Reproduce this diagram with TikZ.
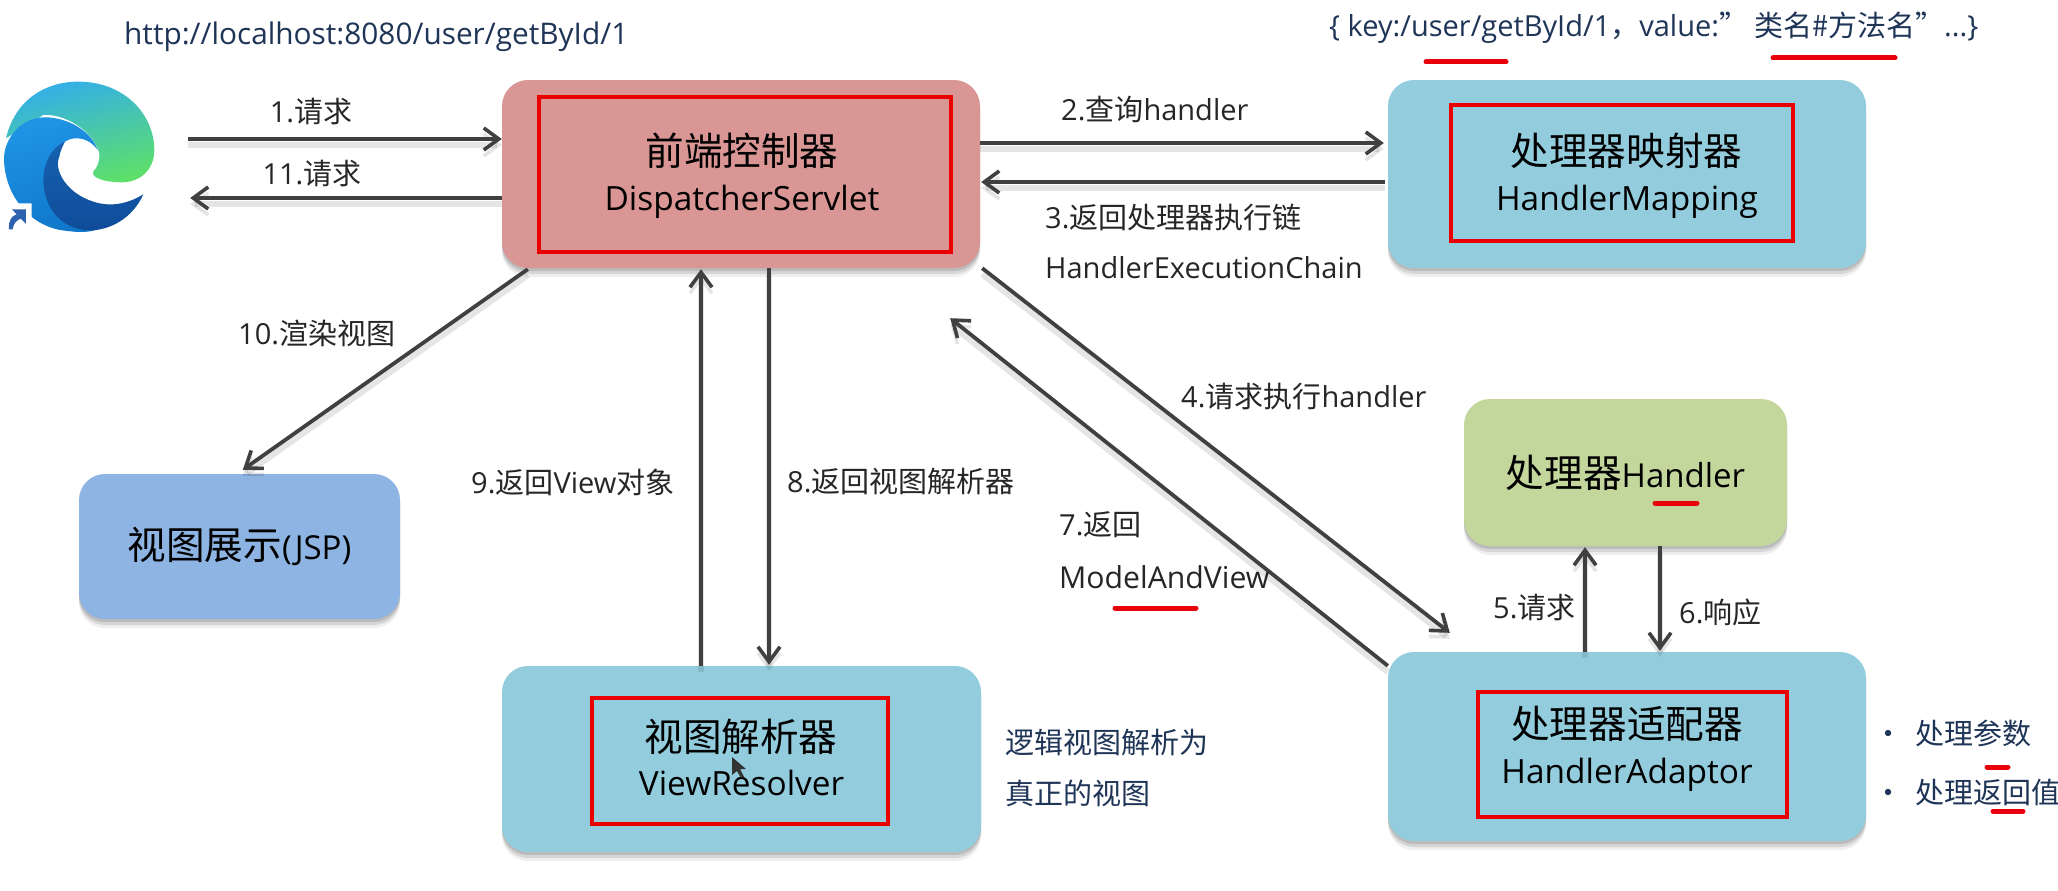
\documentclass[tikz,border=0pt]{standalone}
\usepackage{fontspec}
\usetikzlibrary{arrows.meta,shadows,calc}
\setmainfont{Open Sans}
\newfontfamily\cnfont{Noto Sans CJK SC}
\newcommand{\cn}[1]{{\cnfont #1}}
\newcommand{\fsz}[1]{\fontsize{#1}{#1}\selectfont}
\definecolor{arrowgrey}{HTML}{404040}
\definecolor{navy}{HTML}{1F3557}
\definecolor{redline}{HTML}{E8000B}
\definecolor{boxblue}{HTML}{93CDDD}
\definecolor{boxred}{HTML}{D99694}
\definecolor{boxgreen}{HTML}{C3D69B}
\definecolor{boxview}{HTML}{8EB4E3}
\definecolor{edgeA}{HTML}{33AEEA}
\definecolor{edgeB}{HTML}{2CC3C6}
\definecolor{edgeC}{HTML}{5DDF6B}
\definecolor{edgeD}{HTML}{2094E4}
\definecolor{edgeE}{HTML}{0F78CB}
\definecolor{edgeF}{HTML}{1662B0}
\definecolor{edgeG}{HTML}{0F4C9A}
\definecolor{edgeH}{HTML}{2F62AE}
\tikzset{
  softbox/.style={rounded corners=26pt,draw=none,inner sep=0pt,align=center,
    drop shadow={shadow xshift=0pt,shadow yshift=-3pt,opacity=.30},
    drop shadow={shadow xshift=0pt,shadow yshift=-6pt,opacity=.22},
    drop shadow={shadow xshift=0pt,shadow yshift=-9pt,opacity=.12}},
  redbox/.style={draw=red!92!black,line width=3.5pt,fill=none,inner sep=0pt},
  title/.style={anchor=base,inner sep=0pt,text=black,font=\fsz{38.6}\cnfont},
  sub/.style={anchor=base,inner sep=0pt,text=black,font=\fsz{33.4}},
  conn/.style={draw=arrowgrey,line width=3.8pt,-{Straight Barb[length=15pt,width=22pt,line width=3.6pt]},
    preaction={draw=black,draw opacity=.10,line width=6pt,transform canvas={yshift=-6pt}}},
  lab/.style={anchor=west,inner sep=0pt,text=black!85,font=\fsz{29}},
  note/.style={anchor=west,inner sep=0pt,text=navy,font=\fsz{29}},
  redmark/.style={draw=redline,line width=5pt,line cap=round},
}
\begin{document}
\begin{tikzpicture}[x=1pt,y=-1pt]
\useasboundingbox (0,0) rectangle (2058,891);
\fill[white] (0,0) rectangle (2058,891);

% --- browser logo
\node[minimum width=150pt,minimum height=150pt,inner sep=0pt] (browser) at (79,157) {};
\begin{scope}[x=0.3333pt,y=-0.3333pt,shift={(0pt,-60pt)}]
 \path[left color=edgeA,middle color=edgeB,right color=edgeC,shading angle=15]
   (18,235) .. controls (45,120) and (135,65) .. (235,65)
   .. controls (375,65) and (463,165) .. (463,270)
   .. controls (463,330) and (420,367) .. (365,367)
   .. controls (320,367) and (272,355) .. (280,335)
   .. controls (290,325) and (300,305) .. (298,280)
   .. controls (280,210) and (190,160) .. (130,165) -- cycle;
 \path[left color=edgeD,right color=edgeE,shading angle=20]
   (12,300) .. controls (10,240) and (60,172) .. (135,172)
   .. controls (205,172) and (275,215) .. (293,270)
   .. controls (270,235) and (225,225) .. (195,245)
   .. controls (140,280) and (150,400) .. (230,480)
   .. controls (250,500) and (270,508) .. (285,511)
   .. controls (250,520) and (215,515) .. (180,510)
   .. controls (80,490) and (15,400) .. (12,300) -- cycle;
 \path[left color=edgeF,right color=edgeG,shading angle=0]
   (195,245) .. controls (140,270) and (120,340) .. (135,400)
   .. controls (150,470) and (210,515) .. (280,511)
   .. controls (350,505) and (405,460) .. (430,403)
   .. controls (395,425) and (340,445) .. (280,425)
   .. controls (200,400) and (160,330) .. (178,290)
   .. controls (182,268) and (190,255) .. (195,245) -- cycle;
 \fill[white] (35,430) -- (95,430) -- (95,470) -- (60,510) -- (20,510) -- cycle;
 \fill[edgeH]
   (27,508) .. controls (25,480) and (35,468) .. (50,463) -- (36,448) -- (78,448) -- (78,492) -- (62,476)
   .. controls (48,482) and (40,492) .. (38,508) -- cycle;
\end{scope}

% --- boxes
\node[softbox,fill=boxred,minimum width=478pt,minimum height=188pt] (disp) at (741,174) {};
\node[redbox,minimum width=412pt,minimum height=155pt] (dispin) at (745,174.5) {};
\node[title] (t1) at (742,165) {前端控制器};
\node[sub] (s1) at (742,210) {DispatcherServlet};
\node[softbox,fill=boxblue,minimum width=478pt,minimum height=188pt] (map) at (1627,174) {};
\node[redbox,minimum width=342pt,minimum height=136pt] (mapin) at (1622,173) {};
\node[title] (t2) at (1626.5,165) {处理器映射器};
\node[sub] (s2) at (1627,210) {HandlerMapping};
\node[softbox,fill=boxgreen,minimum width=323pt,minimum height=147pt,font=\fsz{38.6}] (hand) at (1625.5,472.5)
  {\cn{处理器}\fsz{33}Handler};
\node[softbox,fill=boxblue,minimum width=478pt,minimum height=189pt] (adapt) at (1627,746.5) {};
\node[redbox,minimum width=309pt,minimum height=125pt] (adaptin) at (1632.5,754.5) {};
\node[title] (t3) at (1627,738) {处理器适配器};
\node[sub] (s3) at (1627,783) {HandlerAdaptor};
\node[softbox,fill=boxblue,minimum width=479pt,minimum height=186pt] (vr) at (741.5,759) {};
\node[redbox,minimum width=296pt,minimum height=126pt] (vrin) at (740,761) {};
\node[title] (t4) at (741,751) {视图解析器};
\node[sub] (s4) at (741.6,795) {ViewResolver};
\node[softbox,fill=boxview,minimum width=321pt,minimum height=145pt,font=\fsz{38.6}] (view) at (239.5,546.5)
  {\cn{视图展示}\fsz{33}(JSP)};

% --- connectors
\draw[conn] ([shift={(34pt,18pt)}]browser.east) -- ([yshift=35pt]disp.west);
\draw[conn] ([yshift=-24pt]disp.west) -- ([shift={(36pt,-41pt)}]browser.east);
\draw[conn,shorten >=4pt] ([yshift=31pt]disp.east) -- ([yshift=31pt]map.west);
\draw[conn,shorten >=1pt,shorten <=3pt] ([yshift=-8pt]map.west) -- ([yshift=-8pt]disp.east);
\draw[conn] ([shift={(2pt,0pt)}]disp.south east) -- ([shift={(62pt,19pt)}]adapt.north west);
\draw[conn] ([yshift=-14pt]adapt.north west) -- ([shift={(-30pt,-50pt)}]disp.south east);
\draw[conn,shorten >=1pt] ([xshift=-42pt]adapt.north) -- ([xshift=-40.5pt]hand.south);
\draw[conn,shorten >=1pt] ([xshift=34.5pt]hand.south) -- ([xshift=33pt]adapt.north);
\draw[conn,shorten >=1pt] ([xshift=-40.5pt]vr.north) -- ([xshift=-40pt]disp.south);
\draw[conn,shorten >=1pt] ([xshift=28pt]disp.south) -- ([xshift=27.5pt]vr.north);
\draw[conn] ([shift={(26pt,-1pt)}]disp.south west) -- ([shift={(164pt,4pt)}]view.north west);

% --- labels
\node[lab,anchor=center] (l1) at (311,112) {1.\cn{请求}};
\node[lab,anchor=center] (l11) at (312,174) {11.\cn{请求}};
\node[lab] (l2) at (1061,109) {2.\cn{查询}handler};
\node[lab] (l3) at (1045,217) {3.\cn{返回处理器执行链}};
\node[lab] (l3b) at (1045,268) {HandlerExecutionChain};
\node[lab] (l4) at (1181,397) {4.\cn{请求执行}handler};
\node[lab] (l5) at (1493,608) {5.\cn{请求}};
\node[lab] (l6) at (1679,612) {6.\cn{响应}};
\node[lab] (l7) at (1059,525) {7.\cn{返回}};
\node[lab,font=\fsz{30.2}] (l7b) at (1059,577) {ModelAndView};
\node[lab] (l8) at (787,482) {8.\cn{返回视图解析器}};
\node[lab] (l9) at (471,482) {9.\cn{返回}View\cn{对象}};
\node[lab] (l10) at (238,333) {10.\cn{渲染视图}};

% --- notes
\node[note,font=\fsz{29.8}] (url) at (124,37) {http://localhost:8080/user/getById/1};
\node[note] (key) at (1329,28) {\{ key:/user/getById/1\cn{，}value:\cn{”\kern6pt 类名\#方法名”}...\}};
\node[note] (vn1) at (1005,742) {\cn{逻辑视图解析为}};
\node[note] (vn2) at (1005,793) {\cn{真正的视图}};
\node[note] (an1) at (1915,733) {\cn{处理参数}};
\node[note] (an2) at (1915,792) {\cn{处理返回值}};
\fill[navy] (1888,733) circle (3.2pt) (1888,792) circle (3.2pt);

% --- red hand-drawn marks
\draw[redmark] (1426,62) -- (1506,62);
\draw[redmark] (1773,58) -- (1895,58);
\draw[redmark] (1115,608) -- (1196,608);
\draw[redmark] (1655,503) -- (1697,503);
\draw[redmark] (1987,767) -- (2008,767);
\draw[redmark] (1993,811) -- (2023,811);

% --- mouse pointer
\fill[black!80] (732,757) -- (732,775) -- (737,771) -- (741,778) -- (744,777) -- (740,769) -- (746,769) -- cycle;
\end{tikzpicture}
\end{document}
